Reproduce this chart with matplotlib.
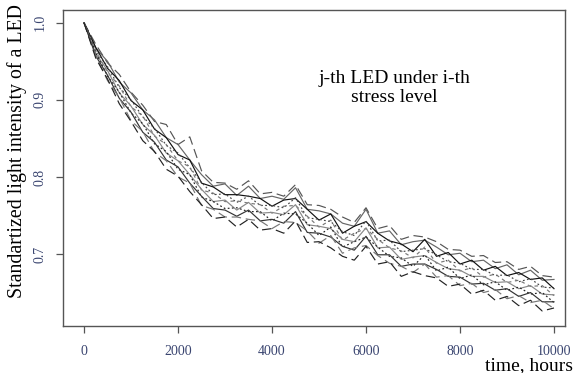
import matplotlib
matplotlib.use("Agg")
import matplotlib.pyplot as plt

hours = [0, 250, 500, 750, 1000, 1250, 1500, 1750, 2000, 2250, 2500, 2750, 3000, 3250,
         3500, 3750, 4000, 4250, 4500, 4750, 5000, 5250, 5500, 5750, 6000, 6250, 6500,
         6750, 7000, 7250, 7500, 7750, 8000, 8250, 8500, 8750, 9000, 9250, 9500, 9750, 10000]

led1 = [1.000,0.972,0.948,0.933,0.910,0.893,0.872,0.868,0.842,0.852,0.808,0.793,0.792,0.784,0.795,0.778,0.780,0.775,0.790,0.764,0.763,0.758,0.748,0.741,0.760,0.733,0.737,0.719,0.724,0.722,0.716,0.706,0.705,0.697,0.698,0.689,0.690,0.680,0.684,0.672,0.670]
led2 = [1.000,0.967,0.950,0.923,0.909,0.887,0.874,0.851,0.842,0.822,0.803,0.788,0.791,0.776,0.788,0.772,0.775,0.771,0.786,0.758,0.756,0.752,0.740,0.736,0.758,0.727,0.730,0.712,0.716,0.718,0.709,0.699,0.701,0.690,0.692,0.681,0.686,0.673,0.679,0.666,0.667]
led3 = [1.000,0.968,0.941,0.925,0.899,0.887,0.862,0.851,0.829,0.822,0.792,0.787,0.777,0.777,0.775,0.772,0.762,0.770,0.772,0.758,0.744,0.752,0.727,0.736,0.742,0.727,0.717,0.713,0.703,0.719,0.697,0.702,0.687,0.692,0.679,0.684,0.672,0.676,0.667,0.669,0.655]
led4 = [1.000,0.964,0.943,0.916,0.900,0.878,0.863,0.841,0.831,0.812,0.793,0.777,0.778,0.767,0.775,0.763,0.763,0.760,0.773,0.747,0.745,0.742,0.729,0.724,0.743,0.717,0.718,0.703,0.705,0.707,0.699,0.690,0.688,0.680,0.680,0.672,0.673,0.664,0.668,0.657,0.656]
led5 = [1.000,0.963,0.936,0.918,0.891,0.879,0.853,0.842,0.821,0.813,0.783,0.779,0.768,0.769,0.766,0.764,0.753,0.762,0.763,0.749,0.735,0.744,0.718,0.727,0.733,0.719,0.708,0.704,0.695,0.709,0.688,0.692,0.678,0.682,0.670,0.674,0.663,0.666,0.658,0.659,0.646]
led6 = [1.000,0.960,0.938,0.909,0.892,0.868,0.854,0.831,0.821,0.803,0.784,0.768,0.770,0.757,0.767,0.753,0.754,0.751,0.764,0.738,0.736,0.733,0.719,0.716,0.734,0.708,0.709,0.693,0.696,0.698,0.689,0.681,0.679,0.671,0.671,0.663,0.664,0.655,0.659,0.648,0.647]
led7 = [1.000,0.961,0.931,0.910,0.883,0.869,0.843,0.833,0.810,0.803,0.774,0.768,0.759,0.760,0.755,0.755,0.743,0.753,0.752,0.740,0.724,0.735,0.709,0.716,0.722,0.709,0.697,0.695,0.684,0.699,0.678,0.683,0.668,0.673,0.660,0.664,0.653,0.657,0.648,0.650,0.637]
led8 = [1.000,0.957,0.932,0.902,0.884,0.858,0.845,0.822,0.813,0.792,0.775,0.759,0.757,0.749,0.757,0.743,0.745,0.740,0.755,0.728,0.727,0.722,0.710,0.705,0.723,0.699,0.699,0.684,0.687,0.687,0.680,0.671,0.670,0.661,0.662,0.653,0.655,0.645,0.650,0.638,0.638]
led9 = [1.000,0.957,0.925,0.903,0.873,0.859,0.832,0.821,0.800,0.792,0.763,0.758,0.748,0.748,0.745,0.743,0.733,0.742,0.741,0.730,0.714,0.724,0.701,0.708,0.711,0.698,0.688,0.684,0.676,0.687,0.670,0.672,0.659,0.662,0.650,0.654,0.642,0.646,0.637,0.640,0.629]
led10 = [1.000,0.954,0.927,0.895,0.872,0.847,0.833,0.810,0.801,0.781,0.764,0.746,0.748,0.735,0.745,0.731,0.733,0.727,0.743,0.715,0.716,0.708,0.697,0.692,0.710,0.687,0.690,0.671,0.677,0.672,0.669,0.658,0.661,0.648,0.653,0.640,0.645,0.633,0.640,0.626,0.630]

series = [led1, led2, led3, led4, led5, led6, led7, led8, led9, led10]
styles = [((0, (8, 4)), "#555555"),
          ("-", "#666666"),
          ("-", "#111111"),
          ((0, (1.5, 2)), "#444444"),
          ((0, (3, 3)), "#777777"),
          ("-", "#888888"),
          ((0, (1.5, 2)), "#222222"),
          ("-", "#333333"),
          ((0, (8, 4)), "#777777"),
          ((0, (8, 4)), "#222222")]

xticks = [0, 2000, 4000, 6000, 8000, 10000]
yticks = [0.7, 0.8, 0.9, 1.0]

fig = plt.figure(figsize=(5.74, 3.73), dpi=100)
ax = fig.add_axes([0.1098, 0.126, 0.8745, 0.847])
for vals, (ls, col) in zip(series, styles):
    ax.plot(hours, vals, linestyle=ls, color=col, linewidth=0.85)

ax.set_xlim(-447, 10234)
ax.set_ylim(0.6066, 1.0165)
ax.set_xticks(xticks)
ax.set_yticks(yticks)
tick_col = "#3a4570"
ax.set_xticklabels([str(v) for v in xticks], fontfamily="Liberation Serif", fontsize=10, color=tick_col)
ax.set_yticklabels([f"{v:.1f}" for v in yticks], fontfamily="Liberation Serif", fontsize=10,
                   color=tick_col, rotation=90, va="center")
ax.tick_params(axis="both", direction="out", length=5, width=0.9, color="#555555")
ax.tick_params(axis="x", pad=9)
ax.tick_params(axis="y", pad=7)
for sp in ax.spines.values():
    sp.set_color("#555555")
    sp.set_linewidth(1.0)

ax.text(6600, 0.916, "j-th LED under i-th\nstress level", ha="center", va="center",
        fontfamily="Liberation Serif", fontsize=14, linespacing=1.15)

fig.text(0.0296, 0.595, "Standartized light intensity of a LED", rotation=90, ha="center", va="center",
         fontfamily="Liberation Serif", fontsize=14.3)
fig.text(0.999, 0.008, "time, hours", ha="right", va="baseline",
         fontfamily="Liberation Serif", fontsize=14)

fig.savefig("out.png", dpi=100)
